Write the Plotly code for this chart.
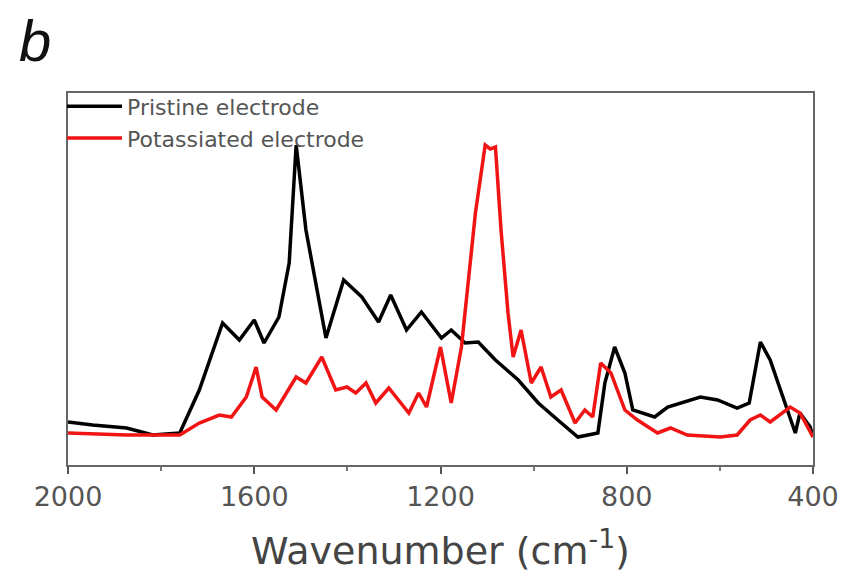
import plotly.graph_objects as go

# Pristine electrode (black)
pristine_wn = [2000, 1947, 1874, 1818, 1760, 1718, 1668, 1632, 1600, 1579, 1547, 1525, 1510, 1489,
               1446, 1408, 1369, 1333, 1307, 1273, 1241, 1198, 1177, 1147, 1119, 1082, 1033, 990,
               948, 905, 862, 847, 826, 804, 787, 740, 712, 684, 642, 605, 563, 537, 513, 492,
               462, 438, 428, 406, 400]
pristine_int = [43, 40, 37, 30, 32, 75, 142, 125, 145, 122, 148, 202, 320, 235,
                127, 185, 168, 143, 170, 135, 153, 127, 135, 122, 123, 105, 85, 62,
                45, 28, 32, 82, 118, 92, 55, 48, 58, 62, 68, 65, 57, 62, 123, 105,
                65, 32, 52, 38, 28]

# Potassiated electrode (red)
potass_wn = [2000, 1874, 1760, 1718, 1675, 1649, 1617, 1596, 1583, 1553, 1510, 1489, 1455, 1425,
             1401, 1382, 1360, 1339, 1311, 1268, 1247, 1230, 1200, 1177, 1155, 1125, 1104, 1093,
             1082, 1070, 1055, 1044, 1027, 1005, 984, 963, 941, 911, 890, 873, 856, 834, 804,
             777, 734, 706, 670, 599, 563, 535, 513, 492, 449, 428, 400]
potass_int = [32, 30, 30, 42, 50, 48, 68, 98, 68, 55, 88, 82, 108, 75,
              78, 72, 82, 62, 77, 52, 72, 58, 118, 62, 118, 252, 320, 316,
              318, 235, 152, 108, 135, 82, 98, 68, 75, 42, 55, 48, 102, 92, 55,
              45, 32, 37, 30, 28, 30, 45, 50, 43, 58, 52, 28]

series_names = ["Pristine electrode", "Potassiated electrode"]
tick_vals = [2000, 1600, 1200, 800, 400]
minor_tick_vals = [1800, 1400, 1000, 600]

fig = go.Figure()
fig.add_trace(go.Scatter(x=pristine_wn, y=pristine_int, mode="lines", name=series_names[0],
                         line=dict(color="#000000", width=3.5)))
fig.add_trace(go.Scatter(x=potass_wn, y=potass_int, mode="lines", name=series_names[1],
                         line=dict(color="#f01414", width=3.5)))

fig.update_layout(
    width=851, height=577,
    margin=dict(l=68, r=35, t=93, b=112),
    paper_bgcolor="white", plot_bgcolor="white",
    font=dict(family="DejaVu Sans", color="#444"),
    showlegend=True,
    legend=dict(x=-0.008, y=1.02, xanchor="left", yanchor="top", bgcolor="rgba(0,0,0,0)",
                font=dict(size=22, color="#555"), tracegroupgap=0,
                itemwidth=55, borderwidth=0),
    annotations=[dict(text="<i>b</i>", xref="paper", yref="paper",
                      x=-0.044, y=1.14, xanchor="center", yanchor="middle",
                      showarrow=False, font=dict(family="Liberation Sans", size=58, color="#111"))],
)
fig.update_xaxes(
    range=[2000, 400], tickmode="array", tickvals=tick_vals,
    ticks="outside", ticklen=7, tickwidth=2, tickcolor="#555",
    showline=True, linecolor="#666", linewidth=2, mirror=True,
    showgrid=False, zeroline=False,
    tickfont=dict(size=27, color="#555"),
    minor=dict(tickvals=minor_tick_vals, ticks="outside", ticklen=4, tickcolor="#777", tickwidth=1.5),
    title=dict(text="Wavenumber (cm<sup>-1</sup>)", font=dict(size=38, color="#444"), standoff=26),
)
fig.update_yaxes(
    range=[0, 372], showticklabels=False, ticks="",
    showline=True, linecolor="#666", linewidth=2, mirror=True,
    showgrid=False, zeroline=False,
)

fig.write_html("out.html")
